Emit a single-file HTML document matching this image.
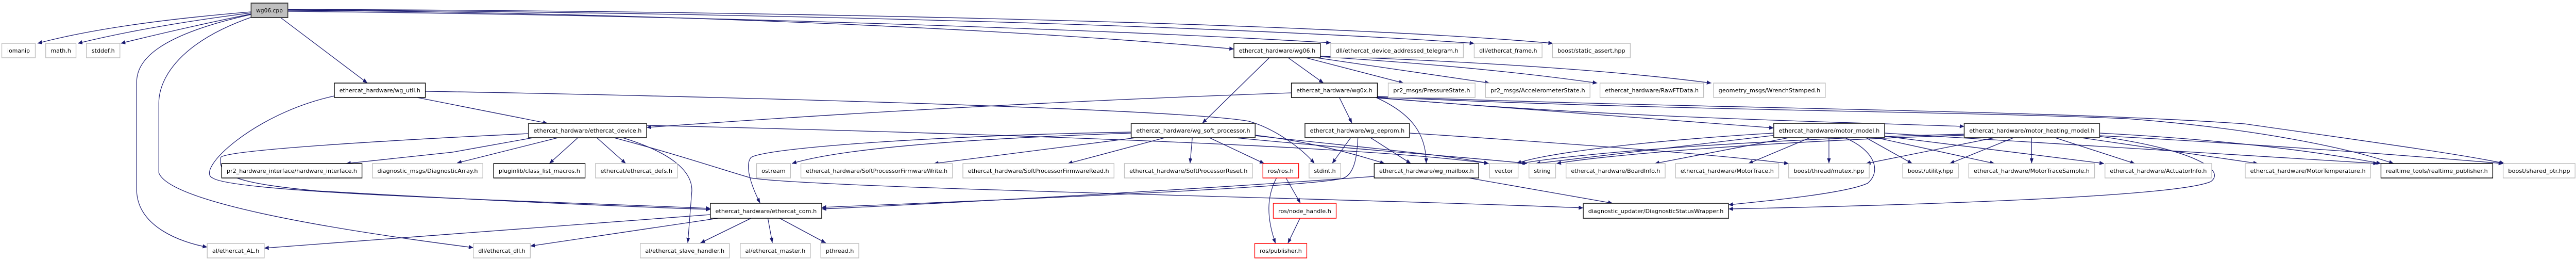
<!DOCTYPE html>
<html><head><meta charset="utf-8">
<style>
html,body{margin:0;padding:0;background:#fff;width:100%;height:100%;overflow:hidden;}
svg{display:block;width:100%;height:100%;}
text{font-family:"DejaVu Sans","Liberation Sans",sans-serif;font-size:11px;fill:#000;}
.e{fill:none;stroke:#191970;stroke-width:1.3;marker-end:url(#a);}
.g{fill:#fff;stroke:#bfbfbf;stroke-width:1.5;}
.k{fill:#fff;stroke:#000;stroke-width:1.5;}
.d{fill:#fff;stroke:#404040;stroke-width:2;}
.r{fill:#fff;stroke:#ff0000;stroke-width:1.5;}
.c{fill:#bfbfbf;stroke:#404040;stroke-width:2;}
</style></head><body>
<svg viewBox="0 0 5693 504" preserveAspectRatio="none" xmlns="http://www.w3.org/2000/svg">
<defs><marker id="a" markerUnits="userSpaceOnUse" markerWidth="11" markerHeight="8" refX="10" refY="4" orient="auto"><path d="M0,0 L10,4 L0,8 z" fill="#191970"/></marker></defs>
<g>
<path class="e" d="M555,23 Q250,45 83,84"/>
<path class="e" d="M555,25 Q330,50 172,84"/>
<path class="e" d="M555,27 Q400,55 267,84"/>
<path class="e" d="M620,34 L812,161"/>
<path class="e" d="M555,28 C340,70 302,120 302,160 L302,370 C305,440 400,470 458,479"/>
<path class="e" d="M560,32 C400,80 351,150 351,200 L351,335 C370,380 600,430 1046,480"/>
<path class="e" d="M636,20 C1500,25 2300,60 2727,95"/>
<path class="e" d="M636,22 C1600,30 2500,60 2941,83"/>
<path class="e" d="M636,19 C1800,25 2800,55 3258,84"/>
<path class="e" d="M636,18 C1900,22 3000,50 3432,84"/>
<path class="e" d="M940,177 C1500,185 2600,210 2760,235 C2820,250 2880,290 2905,317"/>
<path class="e" d="M922,189 L1210,239"/>
<path class="e" d="M739,186 C560,220 430,330 470,345 C520,375 1200,390 1570,404"/>
<path class="e" d="M1168,259 C900,270 500,290 488,305 C480,340 520,355 700,370 C1000,385 1300,398 1570,406"/>
<path class="e" d="M1178,267 L1000,295 L765,317"/>
<path class="e" d="M1233,267 L1010,316"/>
<path class="e" d="M1277,267 L1214,317"/>
<path class="e" d="M1319,267 L1383,317"/>
<path class="e" d="M1376,267 C1480,295 1530,330 1529,370 L1520,471"/>
<path class="e" d="M1357,267 C1500,300 1600,330 1660,345 C1800,365 3000,385 3499,403"/>
<path class="e" d="M1429,243 C2000,255 3000,280 3290,317"/>
<path class="e" d="M1570,416 L584,481"/>
<path class="e" d="M1587,423 L1172,477"/>
<path class="e" d="M1660,423 L1548,471"/>
<path class="e" d="M1697,423 L1707,471"/>
<path class="e" d="M1723,423 L1825,471"/>
<path class="e" d="M2500,258 C2100,270 1850,290 1750,317"/>
<path class="e" d="M2500,256 C2100,262 1700,285 1660,305 C1645,320 1660,360 1680,394"/>
<path class="e" d="M2510,267 L2064,317"/>
<path class="e" d="M2574,267 L2360,317"/>
<path class="e" d="M2635,267 L2630,317"/>
<path class="e" d="M2673,267 L2794,317"/>
<path class="e" d="M2842,345 L2874,394"/>
<path class="e" d="M2821,345 C2800,380 2798,420 2819,472"/>
<path class="e" d="M2873,423 L2846,472"/>
<path class="e" d="M2774,262 C2900,275 3000,300 3060,317"/>
<path class="e" d="M2774,263 C3000,285 3200,300 3290,317"/>
<path class="e" d="M2730,267 C3000,290 3250,305 3375,317"/>
<path class="e" d="M2805,112 L2657,239"/>
<path class="e" d="M2847,112 L2925,161"/>
<path class="e" d="M2886,112 L3102,161"/>
<path class="e" d="M2910,112 L3292,161"/>
<path class="e" d="M2918,110 C3200,125 3400,145 3530,161"/>
<path class="e" d="M2918,109 C3300,120 3600,140 3782,161"/>
<path class="e" d="M2854,180 C2200,200 1700,230 1429,247"/>
<path class="e" d="M2960,189 L2988,239"/>
<path class="e" d="M3041,189 C3120,220 3152,260 3152,317"/>
<path class="e" d="M3045,190 C3400,215 3700,235 3920,248"/>
<path class="e" d="M3044,189 C3500,225 4000,235 4341,245"/>
<path class="e" d="M3044,188 C3700,215 4300,215 4700,230 C5000,250 5200,290 5290,317"/>
<path class="e" d="M3044,187 C3800,212 4500,212 4960,240 C5200,270 5450,300 5535,317"/>
<path class="e" d="M3029,267 L3118,317"/>
<path class="e" d="M2985,267 L2944,317"/>
<path class="e" d="M3115,258 C3500,280 3800,300 3953,317"/>
<path class="e" d="M3001,267 C2999,300 2995,335 2970,345 C2900,365 2000,395 1816,402"/>
<path class="e" d="M3246,345 L3564,394"/>
<path class="e" d="M3037,342 C2600,370 2000,398 1816,405"/>
<path class="e" d="M3920,258 C3600,275 3400,300 3352,317"/>
<path class="e" d="M3925,262 C3700,285 3500,305 3394,317"/>
<path class="e" d="M3953,267 L3657,317"/>
<path class="e" d="M4000,267 L3864,317"/>
<path class="e" d="M4042,267 L4042,317"/>
<path class="e" d="M4124,267 L4226,317"/>
<path class="e" d="M4147,267 L4408,317"/>
<path class="e" d="M4165,264 L4650,317"/>
<path class="e" d="M4077,267 C4140,290 4160,330 4128,355 C4080,375 3900,390 3820,397"/>
<path class="e" d="M4165,258 C4600,280 5000,300 5255,317"/>
<path class="e" d="M4408,267 L4124,317"/>
<path class="e" d="M4450,267 L4309,317"/>
<path class="e" d="M4490,267 L4490,317"/>
<path class="e" d="M4542,267 L4718,317"/>
<path class="e" d="M4600,267 L4990,317"/>
<path class="e" d="M4640,258 C4900,270 5100,290 5262,317"/>
<path class="e" d="M4640,263 C5000,280 5300,300 5532,317"/>
<path class="e" d="M4638,264 C4850,290 4920,330 4886,352 C4800,385 4100,400 3820,405"/>
<path class="e" d="M4341,260 C3900,270 3500,295 3360,317"/>
<path class="e" d="M4341,262 C3900,275 3550,300 3440,317"/>
</g>
<g>
<rect class="c" x="555" y="6" width="81" height="28"/><text x="595.5" y="24" text-anchor="middle" textLength="59" lengthAdjust="spacingAndGlyphs">wg06.cpp</text>

<rect class="g" x="4" y="84" width="74" height="28"/><text x="41" y="102" text-anchor="middle" textLength="50" lengthAdjust="spacingAndGlyphs">iomanip</text>
<rect class="g" x="101" y="84" width="67" height="28"/><text x="134.5" y="102" text-anchor="middle" textLength="45" lengthAdjust="spacingAndGlyphs">math.h</text>
<rect class="g" x="191" y="84" width="74" height="28"/><text x="228" y="102" text-anchor="middle" textLength="51" lengthAdjust="spacingAndGlyphs">stddef.h</text>
<rect class="k" x="2727" y="84" width="191" height="28"/><text x="2822.5" y="102" text-anchor="middle" textLength="169" lengthAdjust="spacingAndGlyphs">ethercat_hardware/wg06.h</text>
<rect class="g" x="2941" y="84" width="293" height="28"/><text x="3087.5" y="102" text-anchor="middle" textLength="271" lengthAdjust="spacingAndGlyphs">dll/ethercat_device_addressed_telegram.h</text>
<rect class="g" x="3258" y="84" width="150" height="28"/><text x="3333" y="102" text-anchor="middle" textLength="128" lengthAdjust="spacingAndGlyphs">dll/ethercat_frame.h</text>
<rect class="g" x="3431" y="84" width="172" height="28"/><text x="3517" y="102" text-anchor="middle" textLength="150" lengthAdjust="spacingAndGlyphs">boost/static_assert.hpp</text>

<rect class="k" x="739" y="161" width="201" height="28"/><text x="839.5" y="179" text-anchor="middle" textLength="179" lengthAdjust="spacingAndGlyphs">ethercat_hardware/wg_util.h</text>
<rect class="k" x="2854" y="161" width="190" height="28"/><text x="2949" y="179" text-anchor="middle" textLength="168" lengthAdjust="spacingAndGlyphs">ethercat_hardware/wg0x.h</text>
<rect class="g" x="3068" y="161" width="192" height="28"/><text x="3164" y="179" text-anchor="middle" textLength="170" lengthAdjust="spacingAndGlyphs">pr2_msgs/PressureState.h</text>
<rect class="g" x="3283" y="161" width="231" height="28"/><text x="3398.5" y="179" text-anchor="middle" textLength="209" lengthAdjust="spacingAndGlyphs">pr2_msgs/AccelerometerState.h</text>
<rect class="g" x="3536" y="161" width="229" height="28"/><text x="3650.5" y="179" text-anchor="middle" textLength="207" lengthAdjust="spacingAndGlyphs">ethercat_hardware/RawFTData.h</text>
<rect class="g" x="3787" y="161" width="247" height="28"/><text x="3910.5" y="179" text-anchor="middle" textLength="225" lengthAdjust="spacingAndGlyphs">geometry_msgs/WrenchStamped.h</text>

<rect class="d" x="1168" y="239" width="261" height="28"/><text x="1298.5" y="257" text-anchor="middle" textLength="239" lengthAdjust="spacingAndGlyphs">ethercat_hardware/ethercat_device.h</text>
<rect class="d" x="2500" y="239" width="274" height="28"/><text x="2637" y="257" text-anchor="middle" textLength="252" lengthAdjust="spacingAndGlyphs">ethercat_hardware/wg_soft_processor.h</text>
<rect class="d" x="2884" y="239" width="231" height="28"/><text x="2999.5" y="257" text-anchor="middle" textLength="209" lengthAdjust="spacingAndGlyphs">ethercat_hardware/wg_eeprom.h</text>
<rect class="d" x="3920" y="239" width="245" height="28"/><text x="4042.5" y="257" text-anchor="middle" textLength="223" lengthAdjust="spacingAndGlyphs">ethercat_hardware/motor_model.h</text>
<rect class="d" x="4341" y="239" width="299" height="28"/><text x="4490.5" y="257" text-anchor="middle" textLength="277" lengthAdjust="spacingAndGlyphs">ethercat_hardware/motor_heating_model.h</text>

<rect class="k" x="490" y="317" width="310" height="28"/><text x="645" y="335" text-anchor="middle" textLength="288" lengthAdjust="spacingAndGlyphs">pr2_hardware_interface/hardware_interface.h</text>
<rect class="g" x="823" y="317" width="244" height="28"/><text x="945" y="335" text-anchor="middle" textLength="222" lengthAdjust="spacingAndGlyphs">diagnostic_msgs/DiagnosticArray.h</text>
<rect class="k" x="1091" y="317" width="202" height="28"/><text x="1192" y="335" text-anchor="middle" textLength="180" lengthAdjust="spacingAndGlyphs">pluginlib/class_list_macros.h</text>
<rect class="g" x="1316" y="317" width="181" height="28"/><text x="1406.5" y="335" text-anchor="middle" textLength="159" lengthAdjust="spacingAndGlyphs">ethercat/ethercat_defs.h</text>
<rect class="g" x="1672" y="317" width="75" height="28"/><text x="1709.5" y="335" text-anchor="middle" textLength="53" lengthAdjust="spacingAndGlyphs">ostream</text>
<rect class="g" x="1770" y="317" width="335" height="28"/><text x="1937.5" y="335" text-anchor="middle" textLength="313" lengthAdjust="spacingAndGlyphs">ethercat_hardware/SoftProcessorFirmwareWrite.h</text>
<rect class="g" x="2128" y="317" width="334" height="28"/><text x="2295" y="335" text-anchor="middle" textLength="312" lengthAdjust="spacingAndGlyphs">ethercat_hardware/SoftProcessorFirmwareRead.h</text>
<rect class="g" x="2485" y="317" width="283" height="28"/><text x="2626.5" y="335" text-anchor="middle" textLength="261" lengthAdjust="spacingAndGlyphs">ethercat_hardware/SoftProcessorReset.h</text>
<rect class="r" x="2791" y="317" width="79" height="28"/><text x="2830.5" y="335" text-anchor="middle" textLength="57" lengthAdjust="spacingAndGlyphs">ros/ros.h</text>
<rect class="g" x="2893" y="317" width="70" height="28"/><text x="2928" y="335" text-anchor="middle" textLength="48" lengthAdjust="spacingAndGlyphs">stdint.h</text>
<rect class="k" x="3037" y="317" width="231" height="28"/><text x="3152.5" y="335" text-anchor="middle" textLength="209" lengthAdjust="spacingAndGlyphs">ethercat_hardware/wg_mailbox.h</text>
<rect class="g" x="3292" y="317" width="63" height="28"/><text x="3323.5" y="335" text-anchor="middle" textLength="41" lengthAdjust="spacingAndGlyphs">vector</text>
<rect class="g" x="3379" y="317" width="59" height="28"/><text x="3408.5" y="335" text-anchor="middle" textLength="37" lengthAdjust="spacingAndGlyphs">string</text>
<rect class="g" x="3461" y="317" width="219" height="28"/><text x="3570.5" y="335" text-anchor="middle" textLength="197" lengthAdjust="spacingAndGlyphs">ethercat_hardware/BoardInfo.h</text>
<rect class="g" x="3703" y="317" width="228" height="28"/><text x="3817" y="335" text-anchor="middle" textLength="206" lengthAdjust="spacingAndGlyphs">ethercat_hardware/MotorTrace.h</text>
<rect class="g" x="3953" y="317" width="178" height="28"/><text x="4042" y="335" text-anchor="middle" textLength="156" lengthAdjust="spacingAndGlyphs">boost/thread/mutex.hpp</text>
<rect class="g" x="4205" y="317" width="123" height="28"/><text x="4266.5" y="335" text-anchor="middle" textLength="101" lengthAdjust="spacingAndGlyphs">boost/utility.hpp</text>
<rect class="g" x="4351" y="317" width="278" height="28"/><text x="4490" y="335" text-anchor="middle" textLength="256" lengthAdjust="spacingAndGlyphs">ethercat_hardware/MotorTraceSample.h</text>
<rect class="g" x="4652" y="317" width="236" height="28"/><text x="4770" y="335" text-anchor="middle" textLength="214" lengthAdjust="spacingAndGlyphs">ethercat_hardware/ActuatorInfo.h</text>
<rect class="g" x="4962" y="317" width="277" height="28"/><text x="5100.5" y="335" text-anchor="middle" textLength="255" lengthAdjust="spacingAndGlyphs">ethercat_hardware/MotorTemperature.h</text>
<rect class="k" x="5262" y="317" width="247" height="28"/><text x="5385.5" y="335" text-anchor="middle" textLength="225" lengthAdjust="spacingAndGlyphs">realtime_tools/realtime_publisher.h</text>
<rect class="g" x="5532" y="317" width="159" height="28"/><text x="5611.5" y="335" text-anchor="middle" textLength="137" lengthAdjust="spacingAndGlyphs">boost/shared_ptr.hpp</text>

<rect class="k" x="1570" y="394" width="246" height="29"/><text x="1693" y="413" text-anchor="middle" textLength="224" lengthAdjust="spacingAndGlyphs">ethercat_hardware/ethercat_com.h</text>
<rect class="r" x="2814" y="394" width="139" height="29"/><text x="2883.5" y="413" text-anchor="middle" textLength="117" lengthAdjust="spacingAndGlyphs">ros/node_handle.h</text>
<rect class="d" x="3499" y="394" width="321" height="29"/><text x="3659.5" y="413" text-anchor="middle" textLength="299" lengthAdjust="spacingAndGlyphs">diagnostic_updater/DiagnosticStatusWrapper.h</text>

<rect class="g" x="458" y="472" width="126" height="28"/><text x="521" y="490" text-anchor="middle" textLength="104" lengthAdjust="spacingAndGlyphs">al/ethercat_AL.h</text>
<rect class="g" x="1046" y="472" width="126" height="28"/><text x="1109" y="490" text-anchor="middle" textLength="104" lengthAdjust="spacingAndGlyphs">dll/ethercat_dll.h</text>
<rect class="g" x="1415" y="472" width="197" height="28"/><text x="1513.5" y="490" text-anchor="middle" textLength="175" lengthAdjust="spacingAndGlyphs">al/ethercat_slave_handler.h</text>
<rect class="g" x="1636" y="472" width="155" height="28"/><text x="1713.5" y="490" text-anchor="middle" textLength="133" lengthAdjust="spacingAndGlyphs">al/ethercat_master.h</text>
<rect class="g" x="1814" y="472" width="84" height="28"/><text x="1856" y="490" text-anchor="middle" textLength="62" lengthAdjust="spacingAndGlyphs">pthread.h</text>
<rect class="r" x="2773" y="472" width="115" height="28"/><text x="2830.5" y="490" text-anchor="middle" textLength="93" lengthAdjust="spacingAndGlyphs">ros/publisher.h</text>
</g>
</svg>
</body></html>
